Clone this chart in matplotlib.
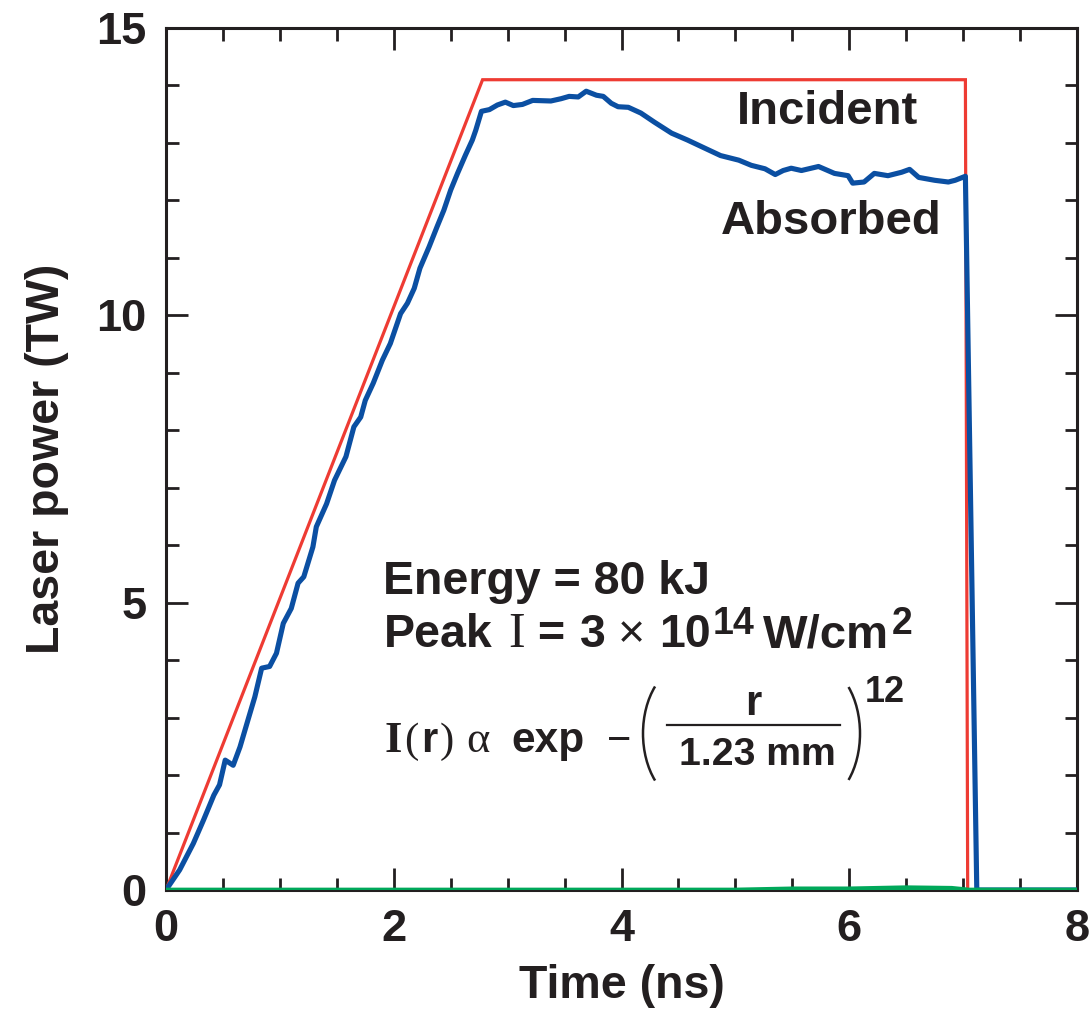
import matplotlib
matplotlib.use("Agg")
import matplotlib.pyplot as plt
from matplotlib.ticker import MultipleLocator
from matplotlib.patches import Arc
from matplotlib.lines import Line2D

# ---- data ----
t_incident = [0.0, 2.78, 7.02, 7.04, 8.0]
p_incident = [0.0, 14.1, 14.1, 0.0, 0.0]

t_absorbed = [0.00, 0.12, 0.24, 0.33, 0.42, 0.47, 0.52, 0.59, 0.65, 0.72, 0.78,
              0.84, 0.91, 0.97, 1.03, 1.10, 1.16, 1.21, 1.29, 1.32, 1.41, 1.48,
              1.58, 1.65, 1.71, 1.75, 1.82, 1.90, 1.97, 2.06, 2.12, 2.18, 2.23,
              2.31, 2.38, 2.44, 2.50, 2.56, 2.63, 2.69, 2.72, 2.77, 2.84, 2.91,
              2.98, 3.05, 3.13, 3.22, 3.38, 3.47, 3.54, 3.62, 3.69, 3.78, 3.84,
              3.91, 3.97, 4.06, 4.17, 4.29, 4.44, 4.58, 4.73, 4.87, 5.03, 5.14,
              5.26, 5.35, 5.42, 5.49, 5.58, 5.73, 5.87, 5.99, 6.03, 6.13, 6.22,
              6.34, 6.46, 6.53, 6.61, 6.75, 6.87, 6.93, 7.02, 7.12, 8.0]
p_absorbed = [0.00, 0.35, 0.81, 1.22, 1.65, 1.83, 2.26, 2.17, 2.49, 2.96, 3.36,
              3.86, 3.89, 4.12, 4.64, 4.90, 5.34, 5.45, 5.97, 6.32, 6.72, 7.13,
              7.54, 8.06, 8.23, 8.52, 8.82, 9.22, 9.51, 10.03, 10.21, 10.47, 10.82,
              11.19, 11.54, 11.83, 12.18, 12.47, 12.79, 13.05, 13.22, 13.55, 13.58, 13.66,
              13.71, 13.65, 13.67, 13.74, 13.73, 13.77, 13.81, 13.80, 13.90, 13.83, 13.81,
              13.69, 13.63, 13.62, 13.52, 13.36, 13.17, 13.05, 12.91, 12.78, 12.70, 12.61,
              12.55, 12.45, 12.52, 12.56, 12.52, 12.59, 12.47, 12.43, 12.30, 12.32, 12.47,
              12.43, 12.49, 12.54, 12.40, 12.35, 12.32, 12.35, 12.42, 0.0, 0.0]

t_other = [0.0, 5.0, 5.5, 6.0, 6.5, 6.9, 7.05, 8.0]
p_other = [0.0, 0.0, 0.02, 0.02, 0.04, 0.03, 0.0, 0.0]

x_ticks = [0, 2, 4, 6, 8]
y_ticks = [0, 5, 10, 15]

# ---- style ----
TXT = "#231F20"
RED = "#EE3B33"
BLUE = "#0B4FA2"
GREEN = "#00A85A"
SANS = ['Liberation Sans', 'DejaVu Sans']
SERIF = ['Liberation Serif', 'DejaVu Serif']

plt.rcParams['font.family'] = SANS
plt.rcParams['font.weight'] = 'bold'

W, H = 1089, 1025
fig = plt.figure(figsize=(W / 100, H / 100), dpi=100)
ax = fig.add_axes([166 / W, (H - 890) / H, (1077 - 166) / W, (890 - 28) / H])

ax.plot(t_incident, p_incident, color=RED, lw=2.3, solid_joinstyle='miter', zorder=3)
ax.plot(t_absorbed, p_absorbed, color=BLUE, lw=3.7, zorder=4)
ax.plot(t_other, p_other, color=GREEN, lw=3.4, zorder=5)

ax.set_xlim(0, 8)
ax.set_ylim(0, 15)
ax.set_xticks(x_ticks)
ax.set_yticks(y_ticks)
ax.xaxis.set_minor_locator(MultipleLocator(0.5))
ax.yaxis.set_minor_locator(MultipleLocator(1))
ax.tick_params(which='both', direction='in', top=True, right=True, color=TXT,
               width=2.0, labelsize=32.5, labelcolor=TXT)
ax.tick_params(which='major', length=16, pad=14)
ax.tick_params(which='minor', length=9)
for lab in ax.get_xticklabels() + ax.get_yticklabels():
    lab.set_fontweight('bold')
for s in ax.spines.values():
    s.set_linewidth(2.2)
    s.set_color(TXT)

ax.set_xlabel("Time (ns)", fontsize=33.5, fontweight='bold', color=TXT, labelpad=10)
ax.set_ylabel("Laser power (TW)", fontsize=33.5, fontweight='bold', color=TXT, labelpad=20)

inv = ax.transData.inverted()
renderer = fig.canvas.get_renderer()


def put(s, xpx, base_px, size, family=SANS, weight='bold', ha='left'):
    x, y = inv.transform((xpx, H - base_px))
    return ax.text(x, y, s, fontsize=size, family=family, fontweight=weight,
                   color=TXT, ha=ha, va='baseline')


def chain(pieces, x0, base_px):
    x = x0
    for s, size, fam, wt, rise, gap in pieces:
        x += gap
        t = put(s, x, base_px - rise, size, fam, wt)
        x = t.get_window_extent(renderer).x1
    return x


put("Incident", 827, 124, 34, ha='center')
put("Absorbed", 831, 234, 34, ha='center')

put("Energy = 80 kJ", 383, 594, 33.5)

# Peak I = 3 x 10^14 W/cm^2
chain([("Peak", 33.5, SANS, 'bold', 0, 0),
       ("I", 36, SERIF, 'normal', 0, 15),
       ("=", 33.5, SANS, 'bold', 0, 13),
       ("3", 33.5, SANS, 'bold', 0, 15),
       ("\u00d7", 33.5, SANS, 'normal', 0, 13),
       ("10", 33.5, SANS, 'bold', 0, 14),
       ("14", 27, SANS, 'bold', 13, 2),
       ("W/cm", 34, SANS, 'bold', 0, 8),
       ("2", 27, SANS, 'bold', 13, 3)], 384, 647)

# I(r) alpha exp -( r / 1.23 mm )^12
chain([("I", 32, SERIF, 'bold', 0, 0),
       ("(", 31, SERIF, 'normal', 0, 2),
       ("r", 30, SANS, 'bold', 0, 2),
       (")", 31, SERIF, 'normal', 0, 3),
       ("\u03b1", 32, SERIF, 'normal', 0, 12),
       ("exp", 30.5, SANS, 'bold', 0, 22),
       ("\u2212", 30, SANS, 'normal', 0, 22)], 385, 752)
put("r", 753, 715, 30, ha='center')
put("1.23 mm", 757, 765, 28.2, ha='center')
put("12", 865, 702, 26)

# fraction bar and large parentheses (figure decorations in pixel units)
px = fig.dpi_scale_trans
fig.add_artist(Line2D([667 / 100, 840 / 100], [(H - 725) / 100] * 2,
                      transform=px, color=TXT, lw=1.6))
fig.add_artist(Arc((688 / 100, (H - 733.5) / 100), 90 / 100, 138 / 100,
                   theta1=125, theta2=235, transform=px, color=TXT, lw=1.8))
fig.add_artist(Arc((816 / 100, (H - 733.5) / 100), 88 / 100, 138 / 100,
                   theta1=-55, theta2=55, transform=px, color=TXT, lw=1.8))

fig.savefig("out.png", dpi=100)
